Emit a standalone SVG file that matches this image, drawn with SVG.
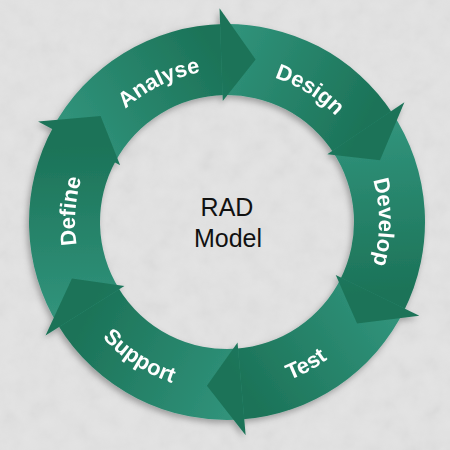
<svg xmlns="http://www.w3.org/2000/svg" width="450" height="450" viewBox="0 0 450 450">
<style>
.lbl{font-family:"Liberation Sans",Arial,sans-serif;font-weight:bold;font-size:22px;fill:#ffffff;}
.ctr{font-family:"Liberation Sans",Arial,sans-serif;font-size:25px;fill:#111111;text-anchor:middle;}
.head{stroke:none;}
</style>
<defs>
<filter id="noise" x="0" y="0" width="100%" height="100%">
<feTurbulence type="fractalNoise" baseFrequency="0.05 0.05" numOctaves="3" seed="7" result="t"/>
<feColorMatrix type="saturate" values="0"/>
</filter>
<filter id="sh" x="-20%" y="-20%" width="140%" height="140%">
<feDropShadow dx="-2" dy="3" stdDeviation="3" flood-color="#000" flood-opacity="0.3"/>
</filter>
<linearGradient id="gA" gradientUnits="userSpaceOnUse" x1="84" y1="146" x2="221" y2="60"><stop offset="0" stop-color="#30927a"/><stop offset="1" stop-color="#1c7358"/></linearGradient>
<linearGradient id="gB" gradientUnits="userSpaceOnUse" x1="221" y1="60" x2="361" y2="131"><stop offset="0" stop-color="#30927a"/><stop offset="1" stop-color="#1c7358"/></linearGradient>
<linearGradient id="gC" gradientUnits="userSpaceOnUse" x1="361" y1="131" x2="373" y2="293"><stop offset="0" stop-color="#30927a"/><stop offset="1" stop-color="#1c7358"/></linearGradient>
<linearGradient id="gD" gradientUnits="userSpaceOnUse" x1="373" y1="293" x2="241" y2="383"><stop offset="0" stop-color="#30927a"/><stop offset="1" stop-color="#1c7358"/></linearGradient>
<linearGradient id="gE" gradientUnits="userSpaceOnUse" x1="241" y1="383" x2="90" y2="308"><stop offset="0" stop-color="#30927a"/><stop offset="1" stop-color="#1c7358"/></linearGradient>
<linearGradient id="gF" gradientUnits="userSpaceOnUse" x1="90" y1="308" x2="84" y2="146"><stop offset="0" stop-color="#30927a"/><stop offset="1" stop-color="#1c7358"/></linearGradient>
<path id="pA" d="M75.37,211.40 A152,152 0 0 1 312.00,95.99"/>
<path id="pB" d="M155.64,87.79 A152,152 0 0 1 378.91,227.30"/>
<path id="pC" d="M303,90.36 A152,152 0 0 1 303,353.64"/>
<path id="pD" d="M139.44,367.72 A170,170 0 0 0 396.97,224.97"/>
<path id="pE" d="M57.23,213.10 A170,170 0 0 0 304.18,373.47"/>
<path id="pF" d="M142.00,348.01 A152,152 0 0 1 160.37,85.38"/>
</defs>
<rect width="450" height="450" fill="#e3e3e3"/>
<rect width="450" height="450" filter="url(#noise)" opacity="0.12"/>

<g id="ring" filter="url(#sh)">
<g id="analyse">
<path d="M52.18,129.05 A198,198 0 0 1 223.54,24.03 L224.78,95.02 A127,127 0 0 0 114.87,162.38 Z" fill="url(#gA)"/>
<text class="lbl"><textPath href="#pA" startOffset="50%" text-anchor="middle">Analyse</textPath></text>
</g>
<g id="design">
<path d="M220.09,24.12 A198,198 0 0 1 393.06,114.16 L333.51,152.83 A127,127 0 0 0 222.57,95.08 Z" fill="url(#gB)"/>
<text class="lbl"><textPath href="#pB" startOffset="50%" text-anchor="middle">Design</textPath></text>
</g>
<g id="develop">
<path d="M391.15,111.28 A198,198 0 0 1 403.42,311.89 L340.16,279.66 A127,127 0 0 0 332.29,150.98 Z" fill="url(#gC)"/>
<text class="lbl"><textPath href="#pC" startOffset="50%" text-anchor="middle">Develop</textPath></text>
</g>
<g id="test">
<path d="M404.96,308.80 A198,198 0 0 1 240.81,419.52 L235.86,348.69 A127,127 0 0 0 341.15,277.67 Z" fill="url(#gD)"/>
<text class="lbl"><textPath href="#pD" startOffset="50%" text-anchor="middle">Test</textPath></text>
</g>
<g id="support">
<path d="M244.26,419.25 A198,198 0 0 1 57.28,323.98 L118.14,287.41 A127,127 0 0 0 238.07,348.52 Z" fill="url(#gE)"/>
<text class="lbl"><textPath href="#pE" startOffset="50%" text-anchor="middle">Support</textPath></text>
</g>
<g id="define">
<path d="M59.09,326.92 A198,198 0 0 1 53.83,126.01 L115.92,160.43 A127,127 0 0 0 119.30,289.30 Z" fill="url(#gF)"/>
<text class="lbl"><textPath href="#pF" startOffset="50%" text-anchor="middle">Define</textPath></text>
</g>
<g id="connectors">
<polygon class="head" points="219.53,8.13 255.65,59.51 222.78,101.07" fill="url(#gA)"/>
<polygon class="head" points="404.41,102.33 379.99,160.19 327.31,154.34" fill="url(#gB)"/>
<polygon class="head" points="419.34,315.81 357.02,323.58 335.75,275.04" fill="url(#gC)"/>
<polygon class="head" points="245.65,435.19 206.89,385.77 237.55,342.54" fill="url(#gD)"/>
<polygon class="head" points="45.52,335.40 71.95,278.43 124.39,286.12" fill="url(#gE)"/>
<polygon class="head" points="38.05,121.53 100.60,115.94 120.16,165.19" fill="url(#gF)"/>
</g>
</g>

<g id="center">
<text class="ctr" x="227" y="216">RAD</text>
<text class="ctr" x="228" y="247">Model</text>
</g>
</svg>
